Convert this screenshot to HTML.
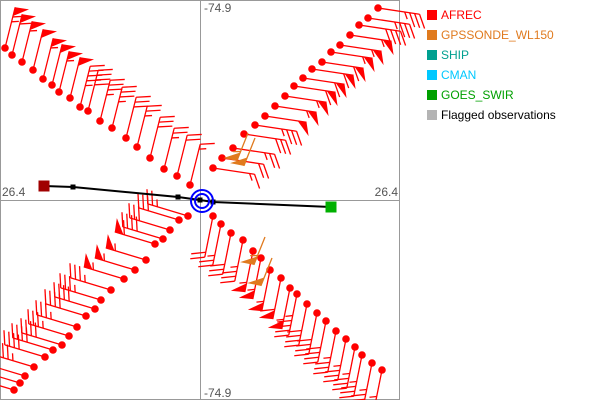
<!DOCTYPE html>
<html><head><meta charset="utf-8"><style>
body{margin:0;background:#fff;font-family:"Liberation Sans","DejaVu Sans",sans-serif}
#wrap{position:relative;width:600px;height:400px;overflow:hidden}
.lg{position:absolute;left:427px;font-size:12px}
.sw{position:absolute;left:0;top:2px;width:10px;height:10px}
.lt{position:absolute;left:14px;top:0;white-space:nowrap}
</style></head><body>
<div id="wrap">
<svg id="plot" width="600" height="400" style="position:absolute;left:0;top:0"></svg>
<div class="lg" style="top:8px"><div class="sw" style="background:#f00"></div><div class="lt" style="color:#f00">AFREC</div></div>
<div class="lg" style="top:28px"><div class="sw" style="background:#e07a1e"></div><div class="lt" style="color:#e07a1e">GPSSONDE_WL150</div></div>
<div class="lg" style="top:48px"><div class="sw" style="background:#00a090"></div><div class="lt" style="color:#00a090">SHIP</div></div>
<div class="lg" style="top:68px"><div class="sw" style="background:#00c8ff"></div><div class="lt" style="color:#00c8ff">CMAN</div></div>
<div class="lg" style="top:88px"><div class="sw" style="background:#00a000"></div><div class="lt" style="color:#00a000">GOES_SWIR</div></div>
<div class="lg" style="top:108px"><div class="sw" style="background:#b4b4b4"></div><div class="lt" style="color:#000">Flagged observations</div></div>
</div>
<script>
// NW arm
const nwLon=[-76.85,-76.78,-76.68,-76.57,-76.47,-76.38,-76.31,-76.20,-76.10,-76.02,-75.90,-75.78,-75.64,-75.53,-75.40,-75.26,-75.13,-75.00];
const nwLat=[27.92,27.85,27.78,27.70,27.61,27.55,27.48,27.42,27.33,27.29,27.19,27.12,27.02,26.93,26.82,26.71,26.64,26.55];
const nwSpd=[65,60,55,50,55,50,55,50,45,40,35,35,30,25,30,25,20,15];
// NE arm
const neLon=[-73.12,-73.22,-73.31,-73.40,-73.50,-73.59,-73.68,-73.78,-73.87,-73.96,-74.05,-74.15,-74.25,-74.35,-74.46,-74.57,-74.68,-74.77];
const neLat=[28.32,28.22,28.15,28.05,27.95,27.88,27.78,27.71,27.62,27.54,27.44,27.34,27.24,27.15,27.06,26.92,26.82,26.72];
const neSpd=[35,35,40,55,55,55,60,60,60,60,55,55,50,35,30,25,20,15];
// SW arm
const swLon=[-76.76,-76.70,-76.65,-76.56,-76.45,-76.37,-76.28,-76.21,-76.13,-76.04,-75.95,-75.89,-75.79,-75.66,-75.55,-75.44,-75.35,-75.27,-75.20,-75.11,-75.02];
const swLat=[24.50,24.57,24.64,24.73,24.83,24.90,24.95,25.04,25.13,25.24,25.31,25.40,25.50,25.61,25.70,25.80,25.96,26.01,26.10,26.20,26.24];
const swSpd=[40,40,40,45,40,40,40,35,35,40,40,35,35,55,55,55,60,40,30,30,25];
// SE arm
const seLon=[-74.77,-74.69,-74.59,-74.47,-74.37,-74.29,-74.20,-74.09,-74.00,-73.93,-73.83,-73.73,-73.64,-73.54,-73.44,-73.35,-73.28,-73.18,-73.08];
const seLat=[26.24,26.16,26.07,26.00,25.89,25.82,25.70,25.62,25.52,25.46,25.36,25.27,25.19,25.09,25.01,24.93,24.85,24.77,24.70];
const seSpd=[20,25,30,35,55,55,55,60,55,45,40,40,40,35,35,35,35,35,35];
// GPSSONDE
const gpLon=[-74.42,-74.25,-74.35,-74.18];
const gpLat=[27.07,26.03,27.02,25.82];
const gpSpd=[55,55,50,50];
// track
const trLon=[-76.46,-76.17,-75.12,-74.90,-74.77,-73.59];
const trLat=[26.54,26.53,26.43,26.40,26.38,26.33];

const LON0=-76.9, LAT1=28.4;
const X=v=>(v-LON0)*100, Y=v=>(LAT1-v)*100;
const svg=document.getElementById('plot'), NS='http://www.w3.org/2000/svg';
function mk(t,a,name){const e=document.createElementNS(NS,t);for(const k in a)e.setAttribute(k,a[k]);


svg.appendChild(e);return e;}
mk('rect',{x:0.5,y:0.5,width:399,height:399,fill:'none',stroke:'#999'},'plot-frame');
mk('line',{x1:200.5,y1:0,x2:200.5,y2:400,stroke:'#999'},'vertical-center-line');
mk('line',{x1:0,y1:200.5,x2:400,y2:200.5,stroke:'#999'},'horizontal-center-line');
function txt(x,y,s,n,anchor){const t=mk('text',{x:x,y:y,'font-size':12,fill:'#555','font-family':'Liberation Sans, sans-serif','text-anchor':anchor||'start'},n);t.textContent=s;}
txt(204,12,'-74.9','top-lon-label');txt(204,397,'-74.9','bottom-lon-label');
txt(2,196,'26.4','left-lat-label');txt(398,196,'26.4','right-lat-label','end');
function norm(a,b){const l=Math.hypot(a,b);return [a/l,b/l];}
function barb(lon,lat,spd,u,p,col,name,L,dot){
 const x=X(lon),y=Y(lat);L=L||42;
 const ex=x+u[0]*L, ey=y+u[1]*L;
 mk('line',{x1:x,y1:y,x2:ex,y2:ey,stroke:col,'stroke-width':1.3},name+'-staff');
 let s=Math.round(spd/5)*5,pos=0;
 while(s>=50){const ax=ex-u[0]*pos,ay=ey-u[1]*pos;
  mk('polygon',{points:`${ax},${ay} ${ax-u[0]*9},${ay-u[1]*9} ${ax+p[0]*14},${ay+p[1]*14}`,fill:col},name+'-flag');pos+=10;s-=50;}
 while(s>=10){const ax=ex-u[0]*pos,ay=ey-u[1]*pos;
  mk('line',{x1:ax,y1:ay,x2:ax+p[0]*14+u[0]*3,y2:ay+p[1]*14+u[1]*3,stroke:col,'stroke-width':1.3},name+'-barb');pos+=5;s-=10;}
 if(s>=5){const ax=ex-u[0]*pos,ay=ey-u[1]*pos;
  mk('line',{x1:ax,y1:ay,x2:ax+p[0]*7+u[0]*1.5,y2:ay+p[1]*7+u[1]*1.5,stroke:col,'stroke-width':1.3},name+'-half-barb');}
 if(dot!==false)mk('circle',{cx:x,cy:y,r:3.8,fill:col},name+'-station');
}
const arms=[[nwLon,nwLat,nwSpd,norm(0.25,-1),norm(1,0.15),'nw'],[neLon,neLat,neSpd,norm(1,0.15),norm(0.15,1),'ne'],
 [swLon,swLat,swSpd,norm(-1,-0.3),norm(0.15,-1),'sw'],[seLon,seLat,seSpd,norm(-0.2,1),norm(-1,-0.1),'se']];
arms.forEach(a=>{for(let i=0;i<a[0].length;i++)barb(a[0][i],a[1][i],a[2][i],a[3],a[4],'#f00','afrec-'+a[5]);});
for(let i=0;i<gpLon.length;i++)barb(gpLon[i],gpLat[i],gpSpd[i],norm(-0.4,1),norm(-1,-0.2),'#e07a1e','gpssonde',30,false);
let d='';for(let i=0;i<trLon.length;i++)d+=(i?'L':'M')+X(trLon[i])+','+Y(trLat[i]);
mk('path',{d:d,fill:'none',stroke:'#000','stroke-width':2},'track-line');
for(let i=1;i<trLon.length-1;i++)mk('rect',{x:X(trLon[i])-2.5,y:Y(trLat[i])-2.5,width:5,height:5,fill:'#000'},'track-point');
mk('rect',{x:X(trLon[0])-5.5,y:Y(trLat[0])-5.5,width:11,height:11,fill:'#a00000'},'track-start');
const n=trLon.length-1;
mk('rect',{x:X(trLon[n])-5.5,y:Y(trLat[n])-5.5,width:11,height:11,fill:'#00b000'},'track-end');
mk('circle',{cx:202,cy:201,r:7,fill:'none',stroke:'#0000ff','stroke-width':2},'center-ring-inner');
mk('circle',{cx:202,cy:201,r:11,fill:'none',stroke:'#0000ff','stroke-width':2},'center-ring-outer');
</script>
</body></html>
